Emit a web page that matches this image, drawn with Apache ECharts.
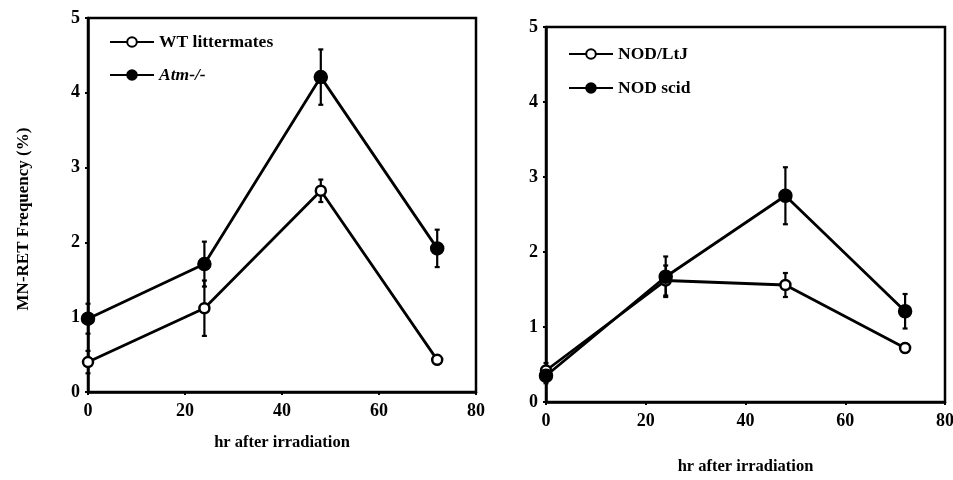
<!DOCTYPE html>
<html>
<head>
<meta charset="utf-8">
<script src="https://cdn.jsdelivr.net/npm/echarts@6/dist/echarts.min.js"></script>
<style>
  html, body { margin: 0; padding: 0; background: #fff; }
  #main { width: 953px; height: 480px; }
</style>
</head>
<body>
<div id="main"></div>
<script>
// hours after irradiation
var hours = [0, 24, 48, 72];
// left panel
var wtMean = [0.40, 1.12, 2.69, 0.43];
var wtErr = [0.15, 0.37, 0.15, 0.06];
var atmMean = [0.98, 1.71, 4.21, 1.92];
var atmErr = [0.20, 0.30, 0.37, 0.25];
// right panel
var nodMean = [0.42, 1.62, 1.56, 0.72];
var nodErr = [0.10, 0.20, 0.16, 0.06];
var scidMean = [0.35, 1.67, 2.75, 1.21];
var scidErr = [0.10, 0.27, 0.38, 0.23];

var serif = 'Liberation Serif';

function pts(mean) {
    var out = [];
    for (var i = 0; i < hours.length; i++) out.push([hours[i], mean[i]]);
    return out;
}
function errs(mean, err) {
    var out = [];
    for (var i = 0; i < hours.length; i++) out.push([hours[i], mean[i] - err[i], mean[i] + err[i]]);
    return out;
}
//误差线
function errSeries(idx, mean, err) {
    return {
        type: 'custom',
        xAxisIndex: idx, yAxisIndex: idx,
        data: errs(mean, err),
        z: 1,
        silent: true,
        renderItem: function (params, api) {
            var lo = api.coord([api.value(0), api.value(1)]);
            var hi = api.coord([api.value(0), api.value(2)]);
            var w = 2.5;
            var st = { stroke: '#000', lineWidth: 2.2 };
            return {
                type: 'group',
                children: [
                    { type: 'line', shape: { x1: lo[0], y1: lo[1], x2: hi[0], y2: hi[1] }, style: st },
                    { type: 'line', shape: { x1: lo[0] - w, y1: lo[1], x2: lo[0] + w, y2: lo[1] }, style: st },
                    { type: 'line', shape: { x1: hi[0] - w, y1: hi[1], x2: hi[0] + w, y2: hi[1] }, style: st }
                ]
            };
        }
    };
}
function lineSeries(idx, name, mean, open) {
    return {
        name: name,
        type: 'line',
        xAxisIndex: idx, yAxisIndex: idx,
        data: pts(mean),
        symbol: 'circle',
        symbolSize: open ? 10 : 12,
        z: 3,
        lineStyle: { color: '#000', width: 2.8 },
        itemStyle: { color: open ? '#fff' : '#000', borderColor: '#000', borderWidth: 2.5 }
    };
}

function xAxis(idx, nameGap) {
    return {
        type: 'value', gridIndex: idx,
        min: 0, max: 80, interval: 20,
        name: 'hr after irradiation',
        nameLocation: 'middle', nameGap: nameGap,
        nameTextStyle: { fontFamily: serif, fontWeight: 'bold', fontSize: 16.5, color: '#000' },
        axisLine: { lineStyle: { color: '#000', width: 2.5 } },
        axisTick: { show: true, length: 3, lineStyle: { color: '#000', width: 2 } },
        axisLabel: { fontFamily: serif, fontWeight: 'bold', fontSize: 18, color: '#000', margin: 10 },
        splitLine: { show: false }
    };
}
function yAxis(idx, withName) {
    return {
        type: 'value', gridIndex: idx,
        min: 0, max: 5, interval: 1,
        name: withName ? 'MN-RET Frequency (%)' : '',
        nameLocation: 'middle', nameGap: 56,
        nameTextStyle: { fontFamily: serif, fontWeight: 'bold', fontSize: 17, color: '#000', padding: [0, 28, 0, 0] },
        axisLine: { lineStyle: { color: '#000', width: 2.5 } },
        axisTick: { show: true, length: 3, lineStyle: { color: '#000', width: 2 } },
        axisLabel: { fontFamily: serif, fontWeight: 'bold', fontSize: 18, color: '#000', margin: 8 },
        splitLine: { show: false }
    };
}

var myChart = echarts.init(document.getElementById('main'), null, { renderer: 'canvas' });
var option = {
    backgroundColor: '#fff',
    animation: false,
    grid: [
        { left: 88, right: 477, top: 18, bottom: 88, outerBoundsMode: 'none', show: true, borderColor: '#000', borderWidth: 2.5, backgroundColor: 'transparent' },
        { left: 546, right: 8, top: 27, bottom: 78, outerBoundsMode: 'none', show: true, borderColor: '#000', borderWidth: 2.5, backgroundColor: 'transparent' }
    ],
    legend: [
        {
            data: ['WT littermates', 'Atm-/-'],
            orient: 'vertical', left: 104, top: 28,
            itemWidth: 44, itemHeight: 12, itemGap: 15,
            textStyle: { fontFamily: serif, fontWeight: 'bold', fontSize: 17.5, color: '#000',
                rich: { i: { fontFamily: serif, fontWeight: 'bold', fontStyle: 'italic', fontSize: 17.5, color: '#000' } } },
            formatter: function (n) { return n === 'Atm-/-' ? '{i|' + n + '}' : n; }
        },
        {
            data: ['NOD/LtJ', 'NOD scid'],
            orient: 'vertical', left: 563, top: 40,
            itemWidth: 44, itemHeight: 12, itemGap: 16,
            textStyle: { fontFamily: serif, fontWeight: 'bold', fontSize: 17.5, color: '#000' }
        }
    ],
    xAxis: [xAxis(0, 42), xAxis(1, 56)],
    yAxis: [yAxis(0, true), yAxis(1, false)],
    series: [
        errSeries(0, wtMean, wtErr),
        errSeries(0, atmMean, atmErr),
        lineSeries(0, 'WT littermates', wtMean, true),
        lineSeries(0, 'Atm-/-', atmMean, false),
        errSeries(1, nodMean, nodErr),
        errSeries(1, scidMean, scidErr),
        lineSeries(1, 'NOD/LtJ', nodMean, true),
        lineSeries(1, 'NOD scid', scidMean, false)
    ]
};
myChart.setOption(option);
</script>
</body>
</html>
